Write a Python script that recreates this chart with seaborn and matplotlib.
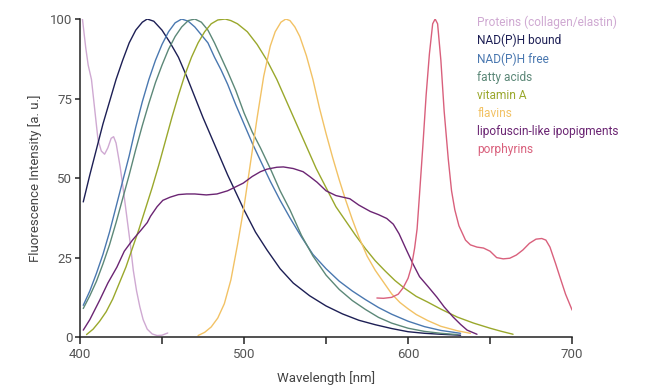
import numpy as np
import pandas as pd
import seaborn as sns
import matplotlib.pyplot as plt

# values (wavelength in nm, intensity in a.u.)
prot_x = [401.5, 403.5, 405, 407, 409, 411, 413, 415, 417, 419, 420.5, 422, 424.5, 426.5,
          428.5, 430.5, 432.5, 434.5, 436.5, 438.5, 441, 444, 447, 450, 453.5]
prot_y = [100, 91, 85.5, 81, 71.5, 62, 58.5, 57.5, 59.5, 62.5, 63, 61, 53.5, 46,
          38, 30, 21, 14.5, 9.5, 5.5, 2.5, 1, 0.5, 0.6, 1.3]

nadb_x = [402, 406, 410, 414, 418, 422, 426, 430, 434, 438, 441, 445, 450, 455, 460, 465,
          470, 475, 480, 485, 490, 495, 500, 507, 514, 522, 530, 540, 550, 560, 570, 580,
          590, 600, 610, 620, 632]
nadb_y = [42.5, 51, 59, 67, 74, 81, 87, 92.5, 96.5, 99, 100, 99.3, 96.5, 92.5, 88, 82,
          75.5, 69, 63, 57, 51, 45.5, 40, 33, 27.4, 21.5, 17, 13, 9.8, 7.3, 5.3, 3.9,
          2.7, 1.7, 1.2, 0.9, 0.6]

nadf_x = [402, 406, 410, 414, 418, 422, 426, 430, 434, 438, 442, 446, 450, 454, 458, 462,
          466, 470, 474, 478, 482, 486, 490, 495, 500, 505, 510, 516, 522, 528, 535, 542,
          550, 558, 566, 574, 582, 590, 600, 610, 620, 632]
nadf_y = [10, 14.5, 20, 26, 33, 41, 49, 57, 66, 74, 81, 87, 92, 96, 98.8, 100,
          99.3, 97.5, 95, 92.5, 88, 84, 79.5, 73, 67, 61, 55.5, 49, 43, 37.5, 31.5, 26,
          21.5, 17.6, 14.5, 11.8, 9.3, 7.2, 5, 3.3, 2.1, 1.2]

fatty_x = [402, 406, 410, 414, 418, 422, 426, 430, 434, 438, 442, 446, 450, 454, 458, 462,
           466, 470, 474, 478, 482, 486, 490, 495, 500, 505, 510, 516, 522, 528, 535, 542,
           550, 558, 566, 574, 582, 590, 600, 610, 620, 630]
fatty_y = [9, 13, 17.5, 23, 29, 36, 43.5, 51, 59, 66.5, 73.5, 80, 85.5, 90.5, 94.5, 97.5,
           99.5, 100, 99, 96.5, 92.5, 88, 83.5, 77.5, 70.5, 64.5, 59.5, 53, 46, 40, 32, 25.5,
           19.5, 15, 11.5, 8.7, 6.2, 4.4, 2.8, 1.8, 1.2, 0.8]

vita_x = [404, 408, 412, 416, 420, 424, 428, 432, 436, 440, 444, 448, 452, 456, 460, 464,
          468, 472, 476, 480, 484, 488.5, 492, 496, 502, 508, 514, 520, 526, 532, 538, 544,
          550, 556, 562, 568, 574, 580, 586, 592, 598, 605, 612, 620, 630, 640, 650, 657, 664]
vita_y = [0.8, 2.5, 5, 8, 12, 17, 22, 28, 34, 40.5, 47, 54, 61.5, 69, 76, 82.5,
          88, 92.5, 96, 98.5, 99.7, 100, 99.5, 98.5, 96, 92, 87, 81, 74, 67, 60, 53,
          47, 41, 36.5, 32, 27.8, 24, 20.8, 17.8, 15.3, 12.8, 11, 8.8, 6.3, 4.4, 2.8, 1.8, 0.9]

flav_x = [472, 476, 480, 484, 488, 492, 496, 500, 504, 508, 512, 516, 519, 522.5, 525.5, 528,
          531, 534, 538, 542, 546, 550, 554, 558, 562, 566, 570, 575, 580, 585, 590, 595,
          600, 605, 612, 620, 630, 638]
flav_y = [0.5, 1.5, 3.2, 6, 10.5, 18, 29, 41, 55, 69, 82, 91.5, 96, 99, 100, 99.5,
          97.5, 94.5, 88.5, 81, 72, 64, 56.5, 49.5, 43, 37, 31.5, 25.5, 21, 17.3, 13.6, 10.9,
          8.9, 7.1, 5.2, 3.4, 2, 1.2]

lipo_x = [402, 406, 412, 417, 422.5, 427, 432, 437, 441, 443, 447, 450.5, 455, 460, 465, 470,
          477, 483.5, 490, 499.5, 505, 510, 514, 520, 524, 530, 536, 540, 544.5, 550, 556, 564.5,
          570, 577, 582, 587, 591, 594.5, 599, 603, 607, 612, 617.5, 622, 627.5, 632, 636, 642]
lipo_y = [2.2, 5.5, 11.6, 17, 22, 27, 30.5, 33.5, 36, 38, 41, 43, 44, 44.8, 45, 45,
          44.7, 45, 46, 48.4, 50.5, 52, 52.8, 53.4, 53.5, 53, 52, 50.5, 48.7, 46, 44.5, 43.5,
          41.5, 39.5, 38.5, 37.3, 35.5, 32.5, 27.4, 23, 19, 16, 12.6, 9.5, 6.3, 4, 2.2, 0.9]

porph_x = [581, 585, 590, 594, 597, 600, 602, 604, 605.5, 607, 609, 611, 613, 615, 616.5, 618,
           620, 622, 624.5, 626.5, 628.5, 631, 635, 638, 642, 646, 650, 654, 658, 662, 666, 670,
           674, 678, 681.5, 684, 686.5, 690, 692.5, 696, 700]
porph_y = [12.3, 12.2, 12.5, 13.5, 15.5, 18.5, 22, 28, 34, 45, 60, 76, 89, 98.5, 100, 98.5,
           87, 71, 56, 46, 40, 35, 30.5, 29, 28.3, 28, 27, 25, 24.6, 24.8, 25.8, 27.4,
           29.5, 30.8, 31, 30.5, 28.3, 23, 19, 13.5, 8.5]

names = ["Proteins (collagen/elastin)", "NAD(P)H bound", "NAD(P)H free", "fatty acids",
         "vitamin A", "flavins", "lipofuscin-like ipopigments", "porphyrins"]
colors = ["#cfa9d2", "#1d1f55", "#4a78b0", "#5c8878", "#9aa82c", "#f2c265", "#6b2573", "#d9607c"]
xs = [prot_x, nadb_x, nadf_x, fatty_x, vita_x, flav_x, lipo_x, porph_x]
ys = [prot_y, nadb_y, nadf_y, fatty_y, vita_y, flav_y, lipo_y, porph_y]

df = pd.concat([pd.DataFrame({"wl": x, "I": y, "src": n}) for x, y, n in zip(xs, ys, names)],
               ignore_index=True)

sns.set_style("ticks")
plt.rcParams['font.family'] = ['Roboto', 'DejaVu Sans']

fig, ax = plt.subplots(figsize=(6.45, 3.92), dpi=100)
fig.subplots_adjust(left=0.124, right=0.887, bottom=0.140, top=0.9515)

sns.lineplot(data=df, x="wl", y="I", hue="src", palette=dict(zip(names, colors)),
             estimator=None, sort=False, linewidth=1.0, legend=False, ax=ax)

ax.set_xlim(400, 700)
ax.set_ylim(0, 100)
ax.set_xticks([400, 500, 600, 700])
ax.set_xticks([450, 550, 650], minor=True)
ax.set_yticks([0, 25, 50, 75, 100])
sns.despine(ax=ax)
for s in ["left", "bottom"]:
    ax.spines[s].set_linewidth(1.1)
    ax.spines[s].set_color("#222222")
ax.tick_params(axis="x", which="both", length=5, width=1.1, color="#222222",
               labelsize=9.5, labelcolor="#555555", pad=3)
ax.tick_params(axis="y", length=3.5, width=1.1, color="#222222",
               labelsize=9.5, labelcolor="#555555", pad=2)
ax.set_xlabel("Wavelength [nm]", fontsize=9.5, color="#444444", labelpad=7)
ax.set_ylabel("Fluorescence Intensity [a. u.]", fontsize=9.5, color="#444444", labelpad=6)

handles = [plt.Line2D([], [], color=c, linewidth=0) for c in colors]
leg = ax.legend(handles, names, loc="upper left", bbox_to_anchor=(0.807, 1.012),
                frameon=False, handlelength=0, handletextpad=0, borderpad=0,
                borderaxespad=0, labelspacing=0.43, fontsize=8.6)
for t, c in zip(leg.get_texts(), colors):
    t.set_color(c)

plt.savefig("out.png", dpi=100)
